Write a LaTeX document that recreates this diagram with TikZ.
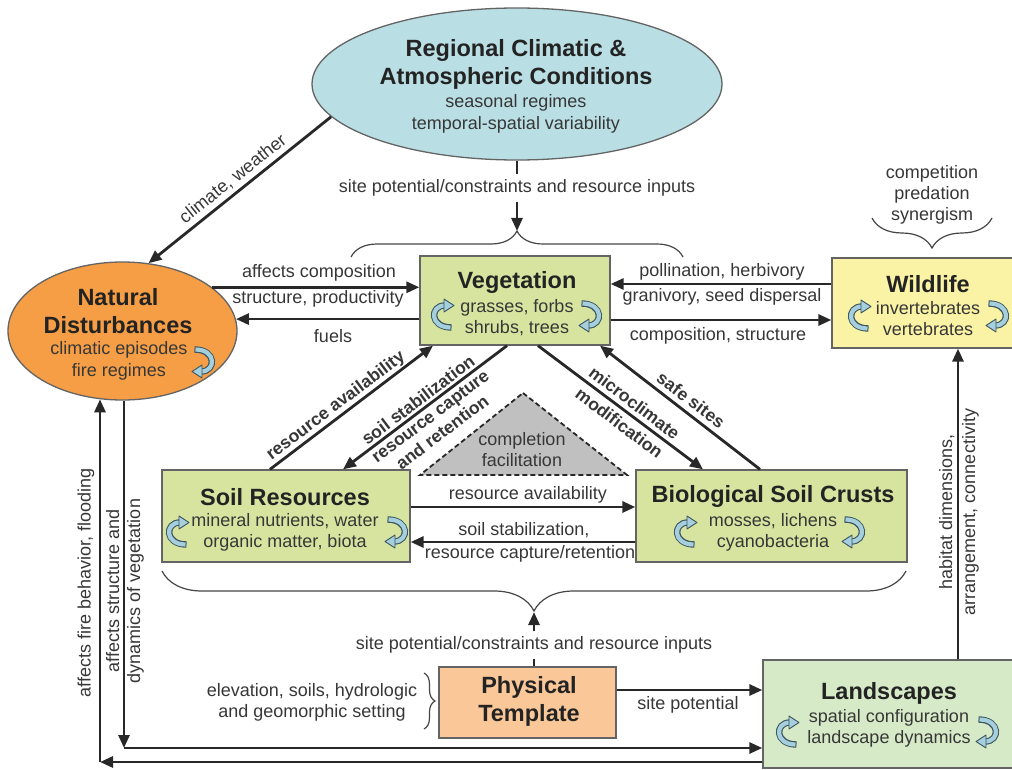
\documentclass[tikz,border=0pt]{standalone}
\usepackage{fontspec}
\setmainfont{Liberation Sans}
\usetikzlibrary{arrows.meta,shapes.geometric,decorations.pathreplacing}
\definecolor{txtc}{RGB}{55,55,55}
\definecolor{ttlc}{RGB}{35,35,35}
\definecolor{lnc}{RGB}{40,40,40}
\definecolor{bdc}{RGB}{100,100,100}
\definecolor{brcc}{RGB}{70,70,70}
\definecolor{climc}{RGB}{185,222,228}
\definecolor{ndc}{RGB}{245,158,70}
\definecolor{vegc}{RGB}{215,228,160}
\definecolor{wildc}{RGB}{250,243,165}
\definecolor{physc}{RGB}{250,200,152}
\definecolor{landc}{RGB}{214,234,200}
\definecolor{tric}{RGB}{192,192,192}
\definecolor{cycl}{RGB}{166,207,222}
\definecolor{cycd}{RGB}{60,85,95}
\tikzset{
 cyc/.pic={
  \draw[line width=6.4pt, cycd] (8.5,12.5) .. controls (-13.5,12.5) and (-13.5,-9.5) .. (2,-9.5);
  \draw[line width=4.2pt, cycl, shorten <=1pt] (8.5,12.5) .. controls (-13.5,12.5) and (-13.5,-9.5) .. (2,-9.5);
  \filldraw[fill=cycl, draw=cycd, line width=0.9pt, line join=round] (1,-16) -- (11,-9.5) -- (1,-3) -- cycle;
 }
}
\begin{document}
\begin{tikzpicture}[x=1pt,y=-1pt,
  shp/.style={draw=bdc, line width=1.3pt, inner sep=0pt},
  ttl/.style={text=ttlc, font=\bfseries\fontsize{23.5}{28}\selectfont, align=center, inner sep=0pt},
  sub/.style={text=txtc, font=\fontsize{18}{21}\selectfont, align=center, inner sep=0pt},
  lab/.style={text=txtc, font=\fontsize{18}{21}\selectfont, align=center, inner sep=0pt},
  dlab/.style={text=txtc, font=\bfseries\fontsize{17.5}{19}\selectfont, align=center, inner sep=0pt},
  arr/.style={draw=lnc, line width=2.8pt, -{Triangle[length=13pt,width=11pt]}},
  plain/.style={draw=lnc, line width=2.8pt},
  brc/.style={draw=brcc, line width=1.2pt, decorate, decoration={brace, amplitude=#1}},
]
\useasboundingbox (0,0) rectangle (1012,770);
\fill[white] (0,0) rectangle (1012,770);

% shapes
\node[shp, ellipse, fill=climc, minimum width=410pt, minimum height=152pt] (clim) at (517,84) {};
\node[ttl] (climT) at (516,64) {Regional Climatic \&\\Atmospheric Conditions};
\node[sub, font=\fontsize{18}{22}\selectfont] (climS) at (516,114) {seasonal regimes\\temporal-spatial variability};

\node[shp, ellipse, fill=ndc, minimum width=229pt, minimum height=138pt] (nd) at (122.5,331) {};
\node[ttl] (ndT) at (118,311) {Natural\\Disturbances};
\node[sub, font=\fontsize{18}{22}\selectfont] (ndS) at (119,361) {climatic episodes\\fire regimes};

\node[shp, fill=vegc, minimum width=190pt, minimum height=89pt] (veg) at (515,300.5) {};
\node[ttl] (vegT) at (517,282) {Vegetation};
\node[sub] (vegS) at (517,317.5) {grasses, forbs\\shrubs, trees};

\node[shp, fill=wildc, minimum width=192pt, minimum height=90pt] (wild) at (928,303) {};
\node[ttl] (wildT) at (928,284) {Wildlife};
\node[sub] (wildS) at (928,318.5) {invertebrates\\vertebrates};

\node[shp, fill=vegc, minimum width=248pt, minimum height=92pt] (soil) at (286,516) {};
\node[ttl] (soilT) at (285,497) {Soil Resources};
\node[sub] (soilS) at (285,532.5) {mineral nutrients, water\\organic matter, biota};

\node[shp, fill=vegc, minimum width=271pt, minimum height=92pt] (bsc) at (771.5,516) {};
\node[ttl] (bscT) at (773,496) {Biological Soil Crusts};
\node[sub] (bscS) at (773,532) {mosses, lichens\\cyanobacteria};

\node[shp, fill=physc, minimum width=177pt, minimum height=71pt] (phys) at (527.5,702.5) {};
\node[ttl] (physT) at (529,701) {Physical\\Template};

\node[shp, fill=landc, minimum width=252pt, minimum height=108pt] (lands) at (889,714) {};
\node[ttl] (landsT) at (889,693) {Landscapes};
\node[sub] (landsS) at (889,728) {spatial configuration\\landscape dynamics};

% triangle
\filldraw[fill=tric, draw=lnc, line width=1.8pt, dash pattern=on 5pt off 3pt] (523,393) -- (627,475) -- (420,475) -- cycle;
\node[lab] (triT) at (522,450) {completion\\facilitation};

% cycle arrows
\pic at (443,315) {cyc};
\pic[rotate=180] at (590,316) {cyc};
\pic at (860,316) {cyc};
\pic[rotate=180] at (997,316) {cyc};
\pic at (178,532) {cyc};
\pic[rotate=180] at (396,532) {cyc};
\pic at (686,532) {cyc};
\pic[rotate=180] at (853,532) {cyc};
\pic[rotate=180] at (203,362) {cyc};
\pic at (788,732) {cyc};
\pic[rotate=180] at (987,732) {cyc};

% climate -> disturbances
\draw[arr] (clim.190) -- (nd.69);
\node[lab, rotate=38.6] (lcw) at (233,179) {climate, weather};

% climate -> vegetation brace
\node[lab, inner sep=5pt] (climL) at (517,188) {site potential/constraints and resource inputs};
\coordinate (tb) at (517,231);
\draw[plain] (clim.south) -- (climL.north);
\draw[arr] (climL.south) -- (tb);
\draw[brc=26pt] (351,257) -- (683,257);

% disturbances <-> vegetation
\draw[arr] (nd.26) -- (nd.26 -| veg.west);
\draw[arr] (nd.6 -| veg.west) -- (nd.6);
\node[lab] (lac) at (319,273) {affects composition};
\node[lab] (lsp) at (318,299) {structure, productivity};
\node[lab] (lfu) at (333,336) {fuels};

% wildlife <-> vegetation
\draw[arr] ([yshift=19pt]wild.west) -- ([yshift=19pt]wild.west -| veg.east);
\draw[arr] ([yshift=-17pt]wild.west -| veg.east) -- ([yshift=-17pt]wild.west);
\node[lab] (lph) at (722,272) {pollination, herbivory};
\node[lab] (lgs) at (722,297) {granivory, seed dispersal};
\node[lab] (lcs) at (718,336) {composition, structure};

% wildlife brace
\node[lab] (comp) at (932,195) {competition\\predation\\synergism};
\draw[brc=30pt] (992,218) -- (872,218);

% vegetation <-> soil / crusts
\draw[arr] ([xshift=-16pt]soil.north) -- ([xshift=-82pt]veg.south);
\draw[arr] ([xshift=-8pt]veg.south) -- ([xshift=57pt]soil.north);
\draw[arr] ([xshift=23pt]veg.south) -- ([xshift=-68.5pt]bsc.north);
\draw[arr] ([xshift=-11.5pt]bsc.north) -- ([xshift=85pt]veg.south);
\node[dlab, rotate=37] (dra) at (336,406) {resource availability};
\node[dlab, rotate=37, font=\bfseries\fontsize{17.5}{20}\selectfont] (dss) at (430,416) {soil stabilization\\resource capture\\and retention};
\node[dlab, rotate=-37, font=\bfseries\fontsize{17.5}{25}\selectfont] (dmc) at (627,413) {microclimate\\modification};
\node[dlab, rotate=-37] (dsafe) at (691,400) {safe sites};

% soil <-> crusts
\draw[arr] ([yshift=9pt]soil.east) -- ([yshift=9pt]soil.east -| bsc.west);
\draw[arr] ([yshift=-26pt]bsc.west) -- ([yshift=-26pt]bsc.west -| soil.east);
\node[lab] (lra) at (528,495) {resource availability};
\node[lab] (lss) at (524,530) {soil stabilization,};
\node[lab] (lrc) at (530,554) {resource capture/retention};

% bottom brace and physical template
\draw[brc=40pt] (906,571) -- (162,571);
\node[lab, inner sep=5pt] (botL) at (534,645) {site potential/constraints and resource inputs};
\coordinate (bb) at (534,612);
\draw[arr] (botL.north) -- (bb);
\draw[plain] (botL.south) -- (botL.south |- phys.north);
\node[lab] (elev) at (312,702.5) {elevation, soils, hydrologic\\and geomorphic setting};
\draw[brc=11pt] (424,673) -- (424,729);

% physical -> landscapes
\draw[arr] ([yshift=12.5pt]phys.east) -- ([yshift=12.5pt]phys.east -| lands.west);
\node[lab] (lsite) at (688,705) {site potential};

% landscapes -> wildlife
\draw[arr] ([xshift=69pt]lands.north) -- ([xshift=69pt]lands.north |- wild.south);
\node[lab, rotate=90, font=\fontsize{18}{23}\selectfont] (lhab) at (959,512) {habitat dimensions,\\arrangement, connectivity};

% disturbances <-> landscapes
\coordinate (c1) at (124,748);
\coordinate (c2) at (100,762);
\draw[arr] ([xshift=1.5pt]nd.south) -- (c1);
\draw[arr] (c1) -- (c1 -| lands.west);
\draw[arr] (c2 -| lands.west) -- (c2);
\draw[arr] (c2) -- (c2 |- nd.252);
\node[lab, rotate=90] (lfire) at (86,583) {affects fire behavior, flooding};
\node[lab, rotate=90, font=\fontsize{18}{21}\selectfont] (lstruct) at (125,591) {affects structure and\\dynamics of vegetation};
\end{tikzpicture}
\end{document}
